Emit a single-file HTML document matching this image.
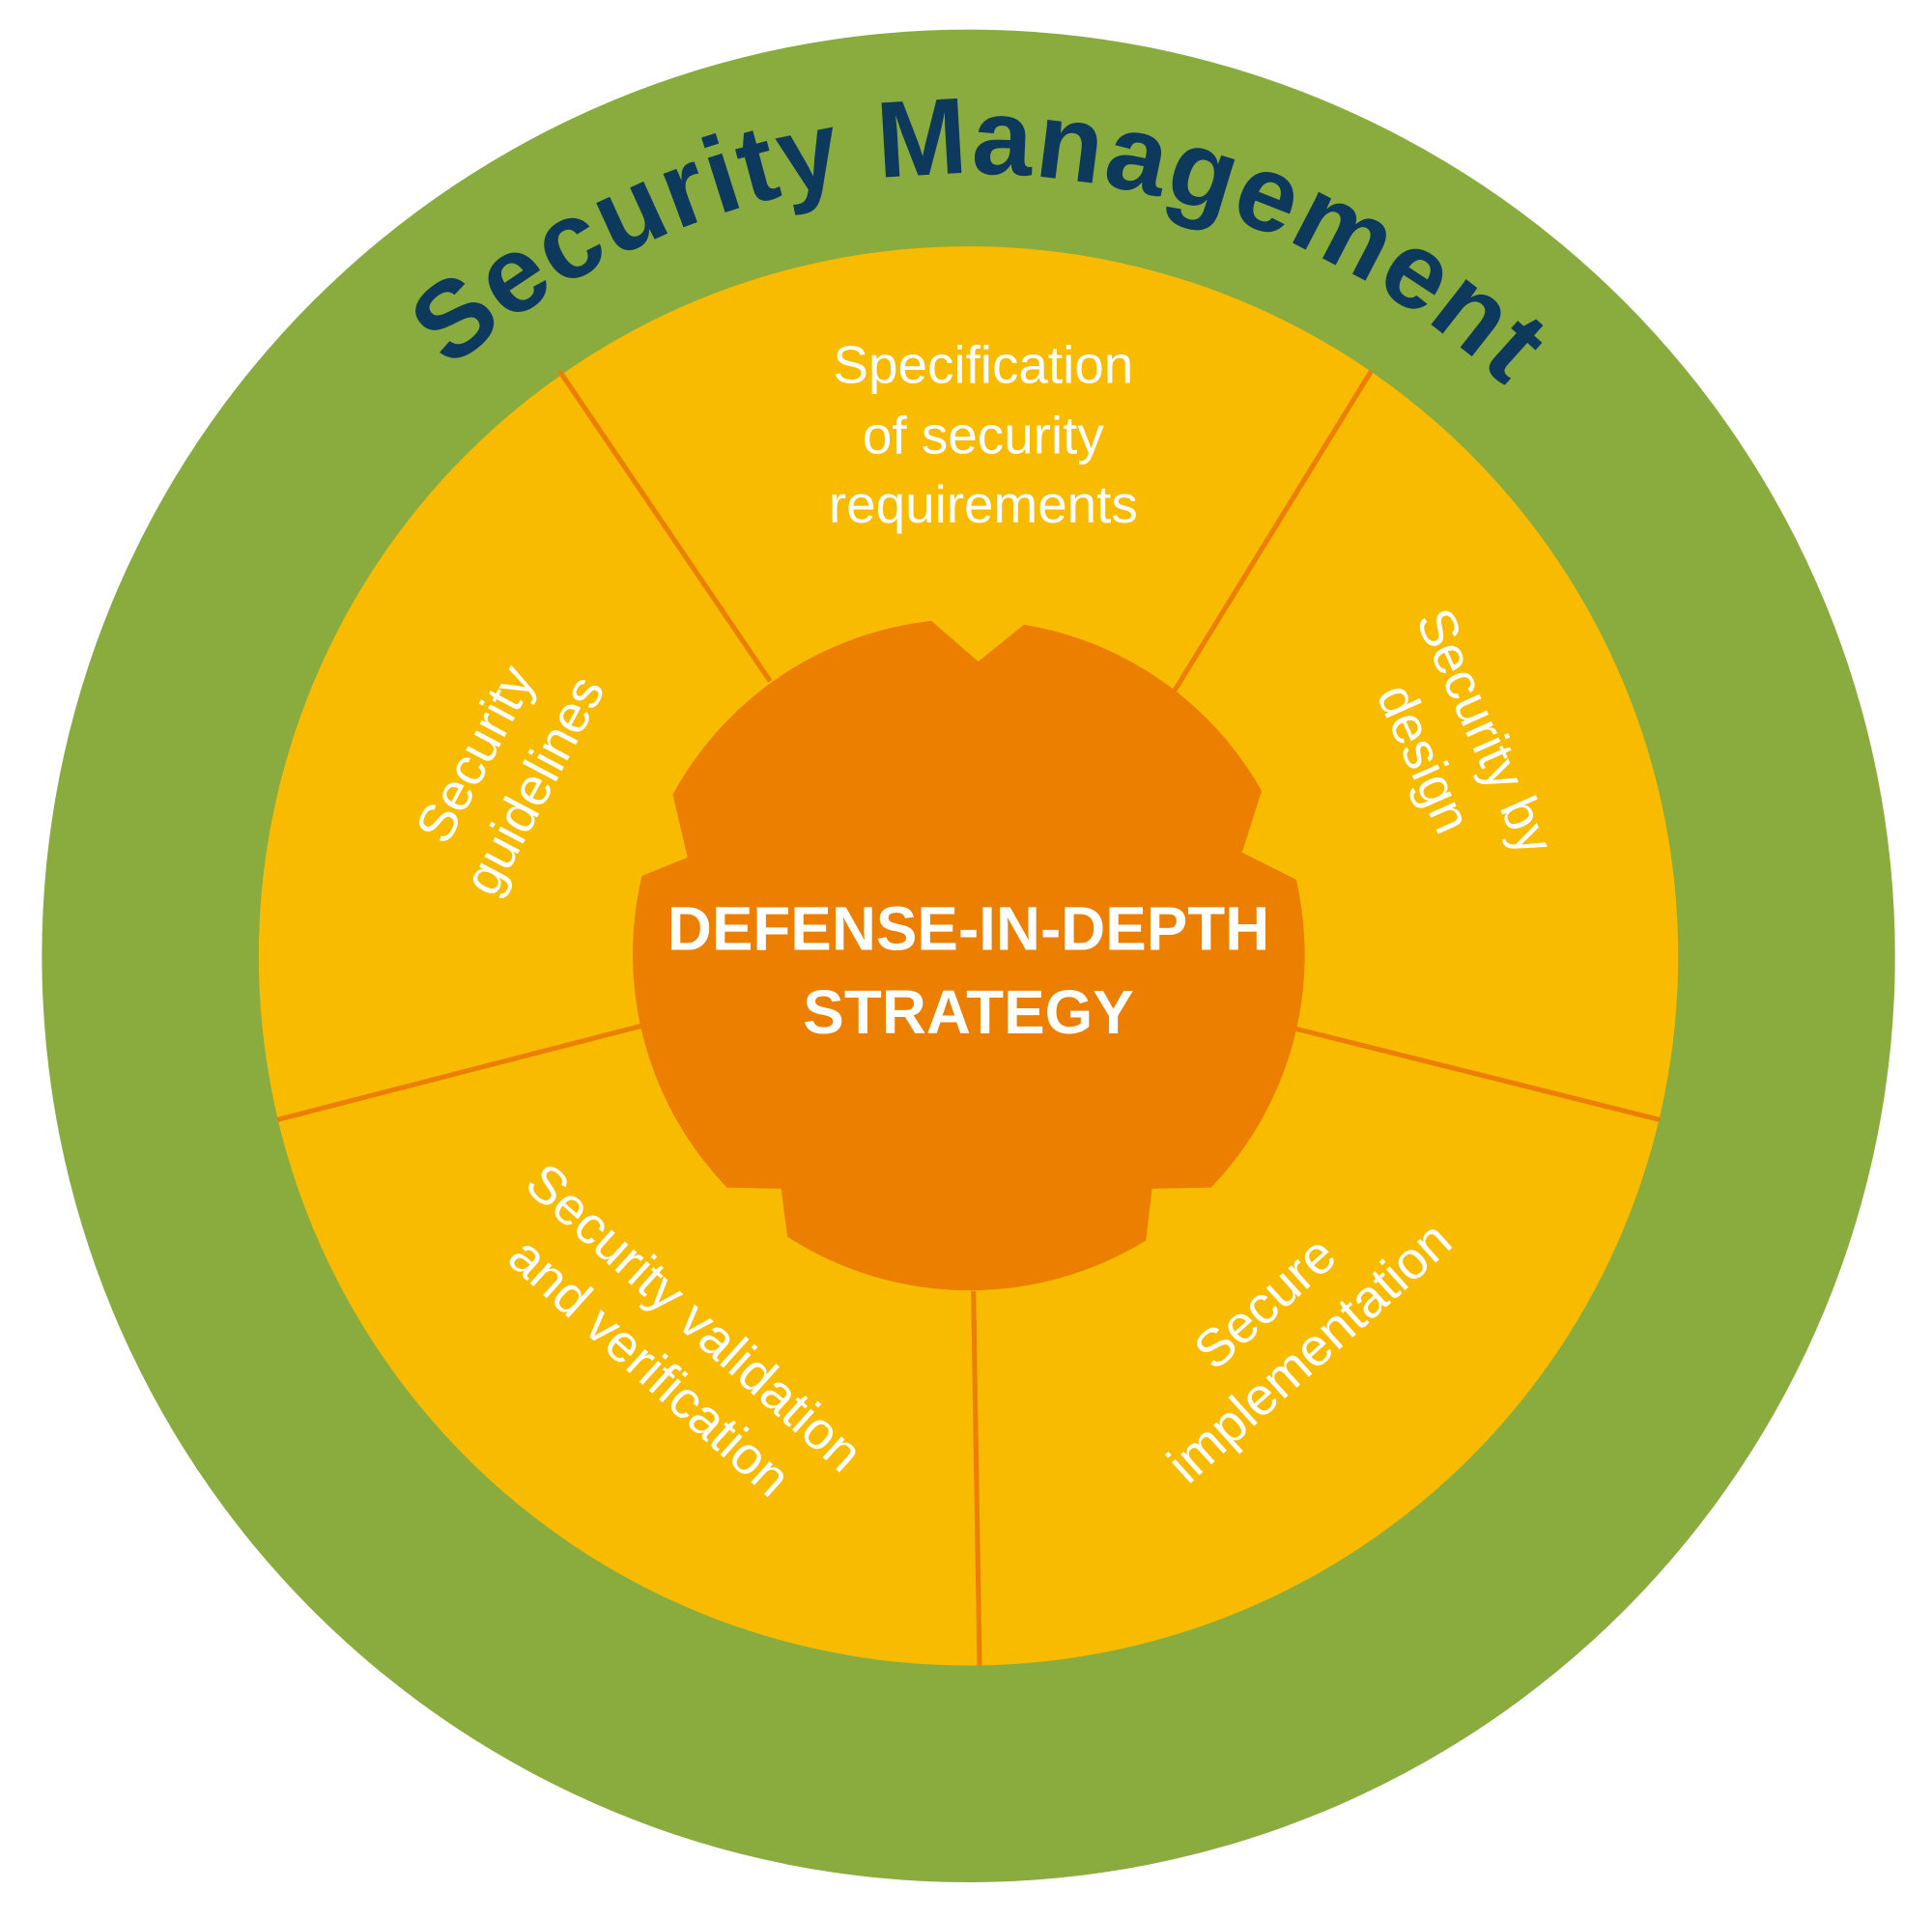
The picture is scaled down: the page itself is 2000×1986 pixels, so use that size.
<!DOCTYPE html>
<html><head><meta charset="utf-8"><style>
html,body{margin:0;padding:0;background:#fff;}
svg{display:block;}
text{font-family:"Liberation Sans",sans-serif;}
.w{fill:#fff;font-size:43px;font-weight:normal;}
</style></head><body>
<svg width="2000" height="1986" viewBox="0 0 1568 1557" preserveAspectRatio="none" xmlns="http://www.w3.org/2000/svg">
<circle cx="786" cy="776" r="752" fill="#8aac3f"/>
<circle cx="786" cy="776" r="576" fill="#f9bb00"/>
<g stroke="#ec7f00" stroke-width="4">
<line x1="454" y1="301" x2="625" y2="553"/>
<line x1="1113" y1="301" x2="953" y2="561"/>
<line x1="1347" y1="909" x2="1051" y2="835"/>
<line x1="225" y1="909" x2="520" y2="833"/>
<line x1="790" y1="1048" x2="795" y2="1352"/>
</g>
<path fill="#ec7f00" d="M756,504 L794,537 L831,507 A273,273 0 0 1 1024,642 L1008,692 L1052,714 A273,273 0 0 1 983,964 L935,965 L930,1007 A273,273 0 0 1 639,1004 L634,965 L590,964 A273,273 0 0 1 521,711 L558,696 L546,645 A273,273 0 0 1 756,504 Z"/>
<defs><path id="arc" d="M151,776 A635,635 0 0 1 1421,776"/></defs>
<text fill="#0d3a5c" font-size="88" font-weight="bold"><textPath href="#arc" startOffset="50.5%" text-anchor="middle" textLength="940" lengthAdjust="spacing">Security Management</textPath></text>
<text class="w" text-anchor="middle"><tspan x="798" y="311">Specification</tspan><tspan x="798" y="368">of security</tspan><tspan x="798" y="424">requirements</tspan></text>
<g transform="rotate(-62 410 625)"><text class="w" text-anchor="middle"><tspan x="410" y="612">Security</tspan><tspan x="410" y="666">guidelines</tspan></text></g>
<g transform="rotate(66 1180 605)"><text class="w" text-anchor="middle"><tspan x="1180" y="592">Security by</tspan><tspan x="1180" y="646">design</tspan></text></g>
<g transform="rotate(-42 1045 1078)"><text class="w" text-anchor="middle"><tspan x="1045" y="1065">Secure</tspan><tspan x="1045" y="1119">implementation</tspan></text></g>
<g transform="rotate(42 545 1090)"><text class="w" text-anchor="middle"><tspan x="545" y="1077">Security validation</tspan><tspan x="545" y="1131">and verification</tspan></text></g>
<text fill="#fff" font-size="50" font-weight="bold" text-anchor="middle"><tspan x="786" y="771">DEFENSE-IN-DEPTH</tspan><tspan x="786" y="839">STRATEGY</tspan></text>
</svg>
</body></html>
